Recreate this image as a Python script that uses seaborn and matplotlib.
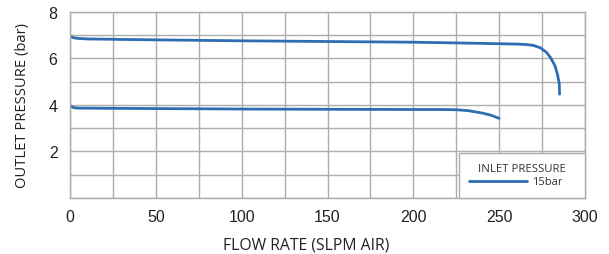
import matplotlib
matplotlib.use("Agg")
import matplotlib.pyplot as plt
import seaborn as sns
import pandas as pd
import numpy as np

# Data
flow_7bar = [0, 2, 5, 10, 50, 100, 150, 200, 240, 260, 266, 270, 274, 277.5, 280, 282.5, 284, 285, 285.2]
press_7bar = [6.95, 6.88, 6.85, 6.83, 6.79, 6.75, 6.72, 6.69, 6.64, 6.61, 6.59, 6.55, 6.45, 6.26, 6.02, 5.68, 5.30, 4.90, 4.46]
flow_4bar = [0, 2, 5, 50, 100, 150, 200, 215, 225, 232, 240, 245, 250]
press_4bar = [3.97, 3.88, 3.86, 3.84, 3.82, 3.81, 3.80, 3.80, 3.79, 3.75, 3.65, 3.56, 3.42]

x_ticks = [0, 50, 100, 150, 200, 250, 300]
y_ticks = [2, 4, 6, 8]
legend_title = "INLET PRESSURE"
legend_label = "15bar"

sns.set_theme(style="white")
plt.rcParams['font.family'] = ['Liberation Sans', 'DejaVu Sans']

fig = plt.figure(figsize=(6.09, 2.55), dpi=100)
ax = fig.add_axes([70/609, 1-199/255, 515/609, (199-12.7)/255])

color = "#2f6db3"
df1 = pd.DataFrame({"flow": flow_7bar, "pressure": press_7bar})
df2 = pd.DataFrame({"flow": flow_4bar, "pressure": press_4bar})
sns.lineplot(data=df1, x="flow", y="pressure", ax=ax, color=color, lw=2.0,
             sort=False, estimator=None, label=legend_label)
sns.lineplot(data=df2, x="flow", y="pressure", ax=ax, color=color, lw=2.0,
             sort=False, estimator=None, label="_nolegend_")

ax.set_xlim(0, 300)
ax.set_ylim(0, 8)
ax.set_xticks(x_ticks)
ax.set_yticks(y_ticks)
ax.set_xticks(np.arange(0, 301, 25), minor=True)
ax.set_yticks(np.arange(0, 9, 1), minor=True)
ax.grid(True, which="both", color="#adadad", lw=1.0)
ax.set_axisbelow(True)
for s in ax.spines.values():
    s.set_color("#adadad")
    s.set_linewidth(1.0)
ax.tick_params(axis="both", which="both", length=0, labelsize=11.5, colors="#222222")
ax.tick_params(axis="x", pad=8)
ax.tick_params(axis="y", pad=9)

ax.set_xlabel("FLOW RATE (SLPM AIR)", family=["Open Sans", "DejaVu Sans"], fontsize=11.3, color="#222222", labelpad=9)
ax.set_ylabel("OUTLET PRESSURE (bar)", family=["Open Sans", "DejaVu Sans"], fontsize=10.6, color="#222222", labelpad=13)
ax.xaxis.label.set_x(0.458)

leg = ax.legend(title=legend_title, loc="lower right", bbox_to_anchor=(0.755, 0.0, 0.245, 0.25),
                mode="expand", borderaxespad=0, fancybox=False, framealpha=1,
                edgecolor="#adadad", fontsize=8, title_fontsize=8.2,
                handlelength=5.2, handletextpad=0.4, borderpad=0.95, labelspacing=0.2)
leg.get_frame().set_linewidth(1.0)
leg.get_title().set_family(["Open Sans", "DejaVu Sans"])
leg.get_title().set_color("#333333")
for t in leg.get_texts():
    t.set_color("#333333")
    t.set_family(["Open Sans", "DejaVu Sans"])
leg._legend_box.align = "center"

fig.savefig("out.png", dpi=100)
